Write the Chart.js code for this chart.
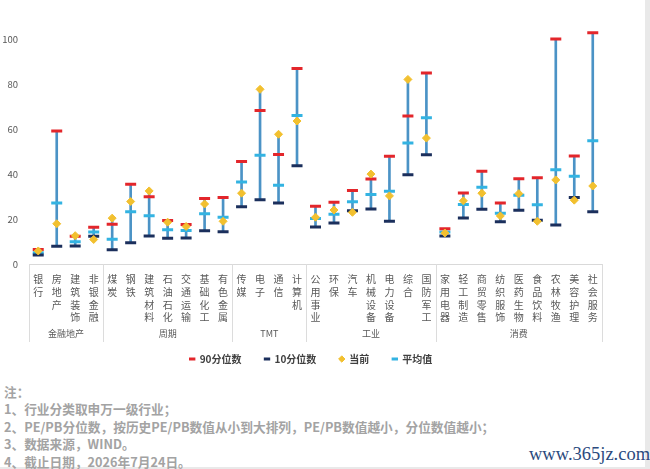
<!DOCTYPE html>
<html lang="zh-CN">
<head>
<meta charset="utf-8">
<title>申万一级行业估值分位数</title>
<script src="https://cdn.jsdelivr.net/npm/chart.js@4.4.1/dist/chart.umd.min.js"></script>
<style>
  html, body { margin: 0; padding: 0; }
  body { width: 650px; height: 469px; background: #e9e9e9; overflow: hidden; font-family: "Noto Sans CJK SC", sans-serif; }
  #page { position: relative; width: 645px; height: 467px; background: #fff; }
  #chartBox { position: absolute; left: 0; top: 0; width: 650px; height: 374px; }
  #notes { position: absolute; left: 4px; top: 383px; font-size: 12.7px; line-height: 17.4px; font-weight: bold; color: #a3a3a3; }
  #mark { position: absolute; left: 529px; top: 444px; font: 18.5px "Liberation Serif", serif; color: #2b4a7e; }
</style>
</head>
<body>
<div id="page">
  <div id="chartBox"><canvas id="rangeChart"></canvas></div>
  <div id="notes">
    注：<br>
    1、行业分类取申万一级行业；<br>
    2、PE/PB分位数，按历史PE/PB数值从小到大排列，PE/PB数值越小，分位数值越小；<br>
    3、数据来源，WIND。<br>
    4、截止日期，2026年7月24日。
  </div>
  <div id="mark">www.365jz.com</div>
</div>
<script>
const categories = ['银行', '房地产', '建筑装饰', '非银金融', '煤炭', '钢铁', '建筑材料', '石油石化', '交通运输', '基础化工', '有色金属',
  '传媒', '电子', '通信', '计算机', '公用事业', '环保', '汽车', '机械设备', '电力设备', '综合', '国防军工',
  '家用电器', '轻工制造', '商贸零售', '纺织服饰', '医药生物', '食品饮料', '农林牧渔', '美容护理', '社会服务'];
const groupNames = ['金融地产', '周期', 'TMT', '工业', '消费'];
const groupSizes = [4, 7, 4, 7, 9];

const p90 = [6.5, 59.2, 12.3, 16.4, 17.7, 35.5, 29.9, 19.3, 17.6, 29.1, 29.6,
  45.6, 68.3, 48.7, 87.0, 25.7, 27.5, 32.7, 37.8, 47.9, 65.8, 85.0,
  15.7, 31.6, 41.2, 27.1, 37.9, 38.4, 100.1, 48.0, 102.9];
const p10 = [4.0, 7.9, 8.0, 12.3, 6.3, 9.4, 12.5, 11.4, 11.6, 14.8, 14.4,
  25.5, 28.6, 27.1, 43.7, 16.5, 18.2, 23.7, 24.5, 19.0, 39.7, 48.6,
  12.4, 20.5, 24.3, 18.8, 23.9, 19.5, 17.3, 29.6, 23.2];
const current = [5.8, 17.9, 12.6, 10.9, 20.4, 27.8, 32.5, 18.6, 16.7, 26.7, 19.0,
  31.5, 77.7, 57.7, 63.6, 20.8, 24.0, 23.0, 40.0, 30.3, 82.1, 56.0,
  13.8, 28.1, 31.5, 21.4, 31.3, 19.0, 37.4, 28.4, 34.7];
const average = [5.0, 27.1, 9.9, 14.2, 11.0, 23.2, 21.5, 15.2, 14.9, 22.3, 20.8,
  36.5, 48.4, 35.0, 66.1, 20.2, 22.1, 27.7, 30.9, 32.4, 53.8, 65.1,
  14.2, 26.5, 34.1, 22.6, 30.6, 26.4, 41.9, 39.0, 54.8];
const yTicks = [0, 20, 40, 60, 80, 100];

const FONT = '"Noto Sans CJK SC", sans-serif';

// range line from lowest to highest mark of each industry
const ranges = categories.map((_, i) => {
  const vals = [p90[i], p10[i], current[i], average[i]];
  return [Math.min(...vals), Math.max(...vals)];
});

function marker(label, data, color, order) {
  return {
    type: 'line', label, data, order,
    showLine: false,
    pointStyle: 'line',
    pointRadius: 5.5, pointHoverRadius: 5.5,
    pointBorderWidth: 3, pointHoverBorderWidth: 3,
    borderColor: color, backgroundColor: color,
    pointBorderColor: color, pointBackgroundColor: color
  };
}

const currentSet = marker('当前', current, '#f2c02f', 0);
currentSet.pointStyle = 'rectRot';
currentSet.pointRadius = 4;
currentSet.pointHoverRadius = 4;
currentSet.pointBorderWidth = 1;

// group names and separators under the category labels
const groupLabels = {
  id: 'groupLabels',
  afterDraw(chart) {
    const x = chart.scales.x;
    const ctx = chart.ctx;
    const half = (x.getPixelForValue(1) - x.getPixelForValue(0)) / 2;
    const edges = [];
    let start = 0;
    ctx.save();
    ctx.fillStyle = '#595959';
    ctx.font = '9px ' + FONT;
    ctx.textAlign = 'center';
    ctx.textBaseline = 'middle';
    groupNames.forEach((name, g) => {
      const end = start + groupSizes[g] - 1;
      edges.push(x.getPixelForValue(start) - half);
      ctx.fillText(name, (x.getPixelForValue(start) + x.getPixelForValue(end)) / 2, x.top + 70);
      start = end + 1;
    });
    edges.push(x.getPixelForValue(start - 1) + half);
    ctx.strokeStyle = '#dcdcdc';
    ctx.lineWidth = 1;
    edges.forEach(px => {
      ctx.beginPath();
      ctx.moveTo(Math.round(px) + 0.5, x.top);
      ctx.lineTo(Math.round(px) + 0.5, x.top + 78);
      ctx.stroke();
    });
    ctx.restore();
  }
};

// legend sits a little right of the canvas centre
const legendShift = {
  id: 'legendShift',
  afterLayout(chart) {
    chart.legend.left += 10;
    chart.legend.right += 10;
  }
};

new Chart(document.getElementById('rangeChart'), {
  data: {
    labels: categories,
    datasets: [
      marker('90分位数', p90, '#e3262b', 1),
      marker('10分位数', p10, '#1b2f5c', 2),
      currentSet,
      marker('平均值', average, '#33b3e2', 3),
      {
        type: 'bar', label: '', data: ranges, order: 10,
        backgroundColor: '#4b93c6', barThickness: 2
      }
    ]
  },
  options: {
    responsive: true,
    maintainAspectRatio: false,
    animation: false,
    layout: { padding: { top: 14, right: 48, left: 0, bottom: 0 } },
    plugins: {
      tooltip: { enabled: false },
      legend: {
        position: 'bottom',
        labels: {
          usePointStyle: true,
          boxWidth: 5,
          boxHeight: 4.5,
          padding: 23,
          color: '#404040',
          font: { family: FONT, size: 10, weight: 'bold' },
          filter: item => item.text !== '',
          sort: (a, b) => a.datasetIndex - b.datasetIndex
        }
      }
    },
    scales: {
      x: {
        grid: { display: false, drawTicks: false },
        border: { display: true, color: '#d9d9d9' },
        ticks: {
          autoSkip: false,
          maxRotation: 0,
          padding: 9,
          color: '#595959',
          font: { family: FONT, size: 10, lineHeight: 1.27 },
          callback: (v, i) => categories[i].split('')
        },
        afterFit: s => { s.height = 67; }
      },
      y: {
        min: 0,
        max: 110,
        grid: { display: false, drawTicks: false },
        border: { display: false },
        ticks: {
          stepSize: 20,
          padding: 11,
          color: '#595959',
          font: { family: FONT, size: 9.5 }
        },
        afterBuildTicks: s => { s.ticks = yTicks.map(v => ({ value: v })); },
        afterFit: s => { s.width = 29; }
      }
    }
  },
  plugins: [groupLabels, legendShift]
});
</script>
</body>
</html>
